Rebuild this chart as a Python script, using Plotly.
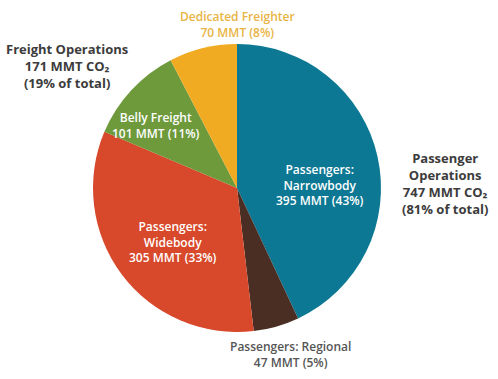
import plotly.graph_objects as go

# ---- data ----
categories = ["Passengers: Narrowbody", "Passengers: Regional", "Passengers: Widebody",
              "Belly Freight", "Dedicated Freighter"]
label_text = ["Passengers:<br>Narrowbody", "Passengers: Regional", "Passengers:<br>Widebody",
              "Belly Freight", "Dedicated Freighter"]
values = [395, 47, 305, 101, 70]
percents = [43, 5, 33, 11, 8]
group_names = ["Passenger<br>Operations", "Freight Operations"]
group_values = [747, 171]
group_percents = [81, 19]

colors = ["#0d7893", "#4a2e24", "#d8482a", "#6e9a3c", "#f0ab22"]

W, H = 498, 379
cx, cy, r = 237, 188, 144

fig = go.Figure(go.Pie(
    labels=categories, values=values, sort=False, direction="clockwise", rotation=0,
    marker=dict(colors=colors, line=dict(width=0)), textinfo="none", hoverinfo="label+value",
    showlegend=False,
    domain=dict(x=[(cx - r) / W, (cx + r) / W], y=[(H - cy - r) / H, (H - cy + r) / H]),
))

FONT = "Open Sans"
# label positions (pixels) and styles per slice
label_pos = [(320, 185), (290, 354), (173, 242), (156, 125), (237, 24)]
label_col = ["white", "#555555", "white", "white", "#e8b444"]
anns = []
for i in range(len(categories)):
    x, y = label_pos[i]
    anns.append(dict(
        x=x / W, y=1 - y / H, xref="paper", yref="paper", showarrow=False,
        xanchor="center", yanchor="middle", align="center",
        text=f"{label_text[i]}<br>{values[i]} MMT ({percents[i]}%)",
        font=dict(family=FONT, size=12, color=label_col[i], weight=600),
    ))

group_pos = [(445, 183), (67, 66)]
for i in range(2):
    x, y = group_pos[i]
    anns.append(dict(
        x=x / W, y=1 - y / H, xref="paper", yref="paper", showarrow=False,
        xanchor="center", yanchor="middle", align="center",
        text=f"{group_names[i]}<br>{group_values[i]} MMT CO\u2082<br>({group_percents[i]}% of total)",
        font=dict(family=FONT, size=13, color="#3c3c3c", weight=700),
    ))

fig.update_layout(
    width=W, height=H, margin=dict(l=0, r=0, t=0, b=0),
    paper_bgcolor="white", plot_bgcolor="white", annotations=anns,
)
fig.write_html("out.html", config={"displayModeBar": False},
               post_script="document.body.style.margin='0px';")
